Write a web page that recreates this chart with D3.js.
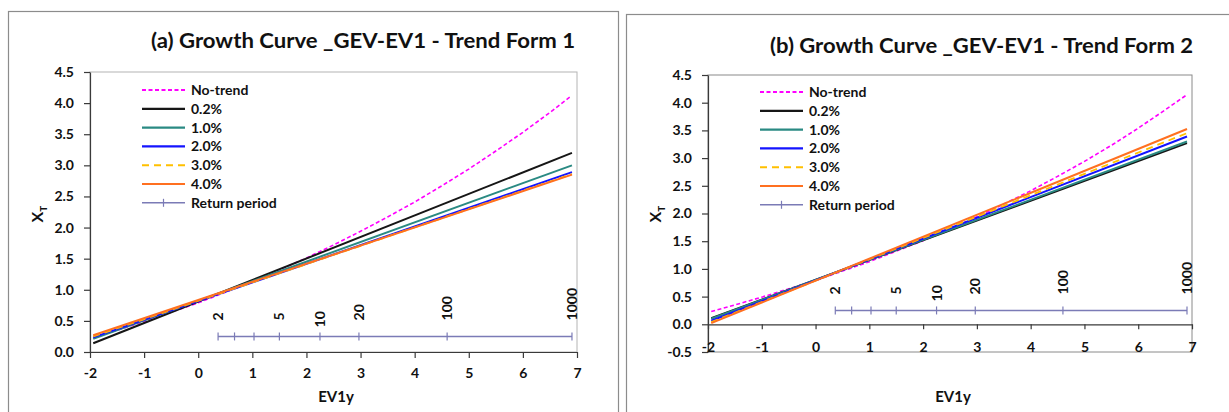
<!DOCTYPE html>
<html><head><meta charset="utf-8">
<script src="https://cdn.jsdelivr.net/npm/d3@7"></script>
<style>
body{margin:0;background:#fff}
svg{display:block;font-family:Lato,'Open Sans',sans-serif}
</style>
</head><body>
<svg id="c" width="1229" height="412"></svg>
<script>
// ---------------- data ----------------
const panelTitles = ["(a) Growth Curve _GEV-EV1 - Trend Form 1", "(b) Growth Curve _GEV-EV1 - Trend Form 2"];
const seriesNames = ["No-trend", "0.2%", "1.0%", "2.0%", "3.0%", "4.0%"];
const xAxisTitle = "EV1y";
const xTicks = [-2, -1, 0, 1, 2, 3, 4, 5, 6, 7];
const yTicksA = [0, 0.5, 1, 1.5, 2, 2.5, 3, 3.5, 4, 4.5];
const yTicksB = [-0.5, 0, 0.5, 1, 1.5, 2, 2.5, 3, 3.5, 4, 4.5];

// No-trend growth curve (EV1y vs XT)
const noTrendX = [-1.94, -1.5, -1, -0.5, 0, 0.5, 1, 1.5, 2, 2.5, 3, 3.5, 4, 4.5, 5, 5.5, 6, 6.5, 6.9];
const noTrendA = [0.23, 0.35, 0.49, 0.64, 0.79, 0.96, 1.13, 1.32, 1.51, 1.72, 1.94, 2.17, 2.41, 2.67, 2.94, 3.23, 3.53, 3.85, 4.12];
const noTrendB = [0.23, 0.35, 0.49, 0.64, 0.79, 0.96, 1.13, 1.32, 1.51, 1.72, 1.94, 2.17, 2.41, 2.67, 2.94, 3.23, 3.54, 3.87, 4.14];

// Trend curves (straight in EV1y): values at the two ends
const trendX = [-1.94, 6.907];
const trendA02 = [0.14, 3.20];
const trendA10 = [0.21, 3.00];
const trendA20 = [0.235, 2.89];
const trendA30 = [0.25, 2.86];
const trendA40 = [0.27, 2.85];
const trendB02 = [0.11, 3.27];
const trendB10 = [0.10, 3.30];
const trendB20 = [0.065, 3.39];
const trendB30 = [0.04, 3.45];
const trendB40 = [0.02, 3.525];

// Return period axis
const returnPeriodLabels = ["2", "", "", "5", "10", "20", "100", "1000"];
const returnPeriodEV1y = [0.367, 0.671, 1.031, 1.500, 2.250, 2.970, 4.600, 6.907];
const returnPeriodLevel = 0.25;
const returnPeriodName = "Return period";

// ---------------- styles ----------------
const styles = {
  "No-trend": {color: "#ff00ff", dash: "4,2.5", w: 1.6},
  "0.2%": {color: "#161616", dash: null, w: 2},
  "1.0%": {color: "#2a8a83", dash: null, w: 2},
  "2.0%": {color: "#1414ff", dash: null, w: 2},
  "3.0%": {color: "#ffc000", dash: "7,5", w: 1.8},
  "4.0%": {color: "#ff7020", dash: null, w: 2}
};
const rpColor = "#7b7bb6";

const svg = d3.select("#c");

function drawPanel(p) {
  const g = svg.append("g");
  // frame
  g.append("rect").attr("x", p.frame[0] + 0.5).attr("y", p.frame[1] + 0.5)
    .attr("width", p.frame[2]).attr("height", p.frame[3])
    .attr("fill", "none").attr("stroke", "#8c8c8c").attr("stroke-width", 1.2);

  const x = d3.scaleLinear().domain([-2, 7]).range([p.box.l, p.box.r]);
  const y = d3.scaleLinear().domain(p.yDomain).range([p.box.b, p.box.t]);

  // plot area border
  g.append("rect").attr("x", p.box.l).attr("y", p.box.t)
    .attr("width", p.box.r - p.box.l).attr("height", p.box.b - p.box.t)
    .attr("fill", "none").attr("stroke", p.boxStroke).attr("stroke-width", 1);

  // title
  g.append("text").attr("x", p.titleX).attr("y", p.titleY)
    .attr("font-size", 21).attr("font-weight", "bold").attr("fill", "#111")
    .attr("textLength", p.titleLen).attr("lengthAdjust", "spacingAndGlyphs")
    .text(p.title);

  // axes
  const yAxis = g.append("g").attr("transform", `translate(${p.box.l},0)`)
    .call(d3.axisLeft(y).tickValues(p.yTicks).tickFormat(d => d.toFixed(1))
      .tickSize(6).tickPadding(10).tickSizeOuter(0));
  const xAxis = g.append("g").attr("transform", `translate(0,${y(0)})`)
    .call(d3.axisBottom(x).tickValues(xTicks).tickFormat(d => String(d))
      .tickSize(p.xTickSize).tickPadding(p.xTickPad).tickSizeOuter(0));
  [yAxis, xAxis].forEach(a => {
    a.select(".domain").attr("stroke", "#3a3a3a").attr("stroke-width", 1.2);
    a.selectAll(".tick line").attr("stroke", "#3a3a3a").attr("stroke-width", 1.2);
    a.selectAll(".tick text").attr("font-family", "Lato, 'Open Sans', sans-serif")
      .attr("font-size", 14).attr("font-weight", "bold").attr("fill", "#111");
  });

  // axis titles
  g.append("text").attr("x", p.xTitle[0]).attr("y", p.xTitle[1])
    .attr("text-anchor", "middle").attr("font-size", 15).attr("font-weight", "bold").attr("fill", "#111")
    .text(xAxisTitle);
  const yt = g.append("text").attr("transform", `translate(${p.yTitle[0]},${p.yTitle[1]}) rotate(-90)`)
    .attr("text-anchor", "middle").attr("font-size", 16).attr("font-weight", "bold").attr("fill", "#111");
  yt.append("tspan").text("X");
  yt.append("tspan").attr("font-size", 10).attr("dy", "0.35em").text("T");

  // series
  const line = d3.line().x(d => x(d[0])).y(d => y(d[1]));
  const plotG = g.append("g");
  const allSeries = [
    {name: seriesNames[0], xs: noTrendX, ys: p.noTrend},
    ...p.trends.map((vals, i) => ({name: seriesNames[i + 1], xs: trendX, ys: vals}))
  ];
  allSeries.forEach(s => {
    const st = styles[s.name];
    plotG.append("path").datum(d3.zip(s.xs, s.ys))
      .attr("d", line).attr("fill", "none")
      .attr("stroke", st.color).attr("stroke-width", st.w)
      .attr("stroke-dasharray", st.dash);
  });

  // return period line
  const rpY = y(returnPeriodLevel);
  plotG.append("path").datum(returnPeriodEV1y.map(v => [v, returnPeriodLevel]))
    .attr("d", line).attr("fill", "none").attr("stroke", rpColor).attr("stroke-width", 1.5);
  plotG.selectAll(".rptick").data(returnPeriodEV1y).join("line")
    .attr("x1", d => x(d)).attr("x2", d => x(d))
    .attr("y1", rpY - 4).attr("y2", rpY + 4)
    .attr("stroke", rpColor).attr("stroke-width", 1.2);
  plotG.selectAll(".rplab").data(d3.zip(returnPeriodEV1y, returnPeriodLabels).filter(d => d[1] !== ""))
    .join("text")
    .attr("transform", d => `translate(${x(d[0])},${rpY - (d[1] === "10" ? 9 : 16)}) rotate(-90)`)
    .attr("dy", "0.36em").attr("font-size", 14).attr("font-weight", "bold").attr("fill", "#111")
    .text(d => d[1]);

  // legend
  const lg = g.append("g");
  const rowH = 18.8;
  const items = seriesNames.concat([returnPeriodName]);
  items.forEach((nm, i) => {
    const cy = p.legend.y + i * rowH;
    const st = styles[nm];
    if (st) {
      lg.append("line").attr("x1", p.legend.x).attr("x2", p.legend.x + 43)
        .attr("y1", cy).attr("y2", cy)
        .attr("stroke", st.color).attr("stroke-width", st.w + 0.2)
        .attr("stroke-dasharray", st.dash);
    } else {
      lg.append("line").attr("x1", p.legend.x).attr("x2", p.legend.x + 43)
        .attr("y1", cy).attr("y2", cy).attr("stroke", rpColor).attr("stroke-width", 1.5);
      lg.append("line").attr("x1", p.legend.x + 21.5).attr("x2", p.legend.x + 21.5)
        .attr("y1", cy - 4).attr("y2", cy + 4).attr("stroke", rpColor).attr("stroke-width", 1.2);
    }
    lg.append("text").attr("x", p.legend.x + 49).attr("y", cy).attr("dy", "0.36em")
      .attr("font-size", 14).attr("font-weight", "bold").attr("fill", "#111").text(nm);
  });
}

drawPanel({
  title: panelTitles[0], titleX: 151, titleY: 48, titleLen: 424,
  frame: [8, 11, 610, 430],
  box: {l: 90, r: 577, t: 72, b: 352}, boxStroke: "#b4b4b4",
  yDomain: [0, 4.5], yTicks: yTicksA,
  xTickSize: 6, xTickPad: 10,
  xTitle: [336, 402], yTitle: [43, 214],
  noTrend: noTrendA,
  trends: [trendA02, trendA10, trendA20, trendA30, trendA40],
  legend: {x: 142, y: 90}
});

drawPanel({
  title: panelTitles[1], titleX: 770, titleY: 53, titleLen: 423,
  frame: [626, 14, 620, 430],
  box: {l: 708, r: 1192, t: 75, b: 352}, boxStroke: "#8a8a8a",
  yDomain: [-0.5, 4.5], yTicks: yTicksB,
  xTickSize: 5, xTickPad: 13,
  xTitle: [953, 402], yTitle: [661, 214],
  noTrend: noTrendB,
  trends: [trendB02, trendB10, trendB20, trendB30, trendB40],
  legend: {x: 760, y: 92}
});
</script>
</body></html>
